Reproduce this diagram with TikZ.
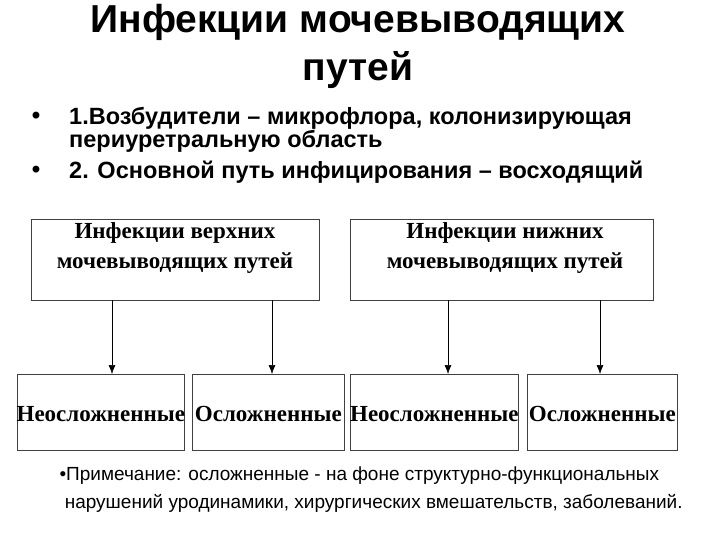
\documentclass[tikz,border=0pt]{standalone}
\usepackage{fontspec}
\usetikzlibrary{arrows.meta}
\setmainfont{Liberation Sans}
\newfontfamily\tms{Liberation Serif}
\begin{document}
\begin{tikzpicture}[x=1pt,y=-1pt,
  bx/.style={draw=black!75,line width=0.7pt},
  lbl/.style={font=\tms\bfseries\fontsize{23}{30}\selectfont,align=center,inner sep=0pt},
  arr/.style={-{Latex[length=9pt,width=7pt]},line width=0.6pt}]
\useasboundingbox (0,0) rectangle (720,540);
\node[font=\bfseries\fontsize{39}{48}\selectfont,align=center] (title) at (358,46) {Инфекции мочевыводящих\\путей};
\node[font=\bfseries\fontsize{24}{24}\selectfont] (b1) at (36,118) {•};
\node[anchor=north west,font=\bfseries\fontsize{23.5}{23}\selectfont,align=left,inner sep=0pt] (t1) at (69,107) {1.Возбудители – микрофлора, колонизирующая\\периуретральную область};
\node[font=\bfseries\fontsize{24}{24}\selectfont] (b2) at (36,172) {•};
\node[anchor=west,font=\bfseries\fontsize{23.5}{23}\selectfont,inner sep=0pt] (t2) at (69,172) {2. Основной путь инфицирования – восходящий};
\node[bx,minimum width=288,minimum height=81,anchor=north west] (U) at (31,219) {};
\node[lbl] at (175,248) {Инфекции верхних\\мочевыводящих путей};
\node[bx,minimum width=303,minimum height=81,anchor=north west] (L) at (350,219) {};
\node[lbl] at (505,248) {Инфекции нижних\\мочевыводящих путей};
\node[bx,minimum width=167,minimum height=76,anchor=north west] (A) at (17,374) {};
\node[bx,minimum width=152,minimum height=76,anchor=north west] (B) at (192,374) {};
\node[bx,minimum width=168,minimum height=76,anchor=north west] (C) at (350,374) {};
\node[bx,minimum width=150,minimum height=76,anchor=north west] (D) at (527,374) {};
\node[lbl] at ([yshift=-2]A.center) {Неосложненные};
\node[lbl] at ([yshift=-2]B.center) {Осложненные};
\node[lbl] at ([yshift=-2]C.center) {Неосложненные};
\node[lbl] at ([yshift=-2]D.center) {Осложненные};
\draw[arr] (112,300) -- (112,374);
\draw[arr] (272,300) -- (272,374);
\draw[arr] (448,300) -- (448,374);
\draw[arr] (600,300) -- (600,374);
\node[anchor=west,font=\fontsize{19}{28}\selectfont,align=left] (note) at (56,490) {•Примечание: осложненные - на фоне структурно-функциональных\\\ нарушений уродинамики, хирургических вмешательств, заболеваний.};
\end{tikzpicture}
\end{document}
